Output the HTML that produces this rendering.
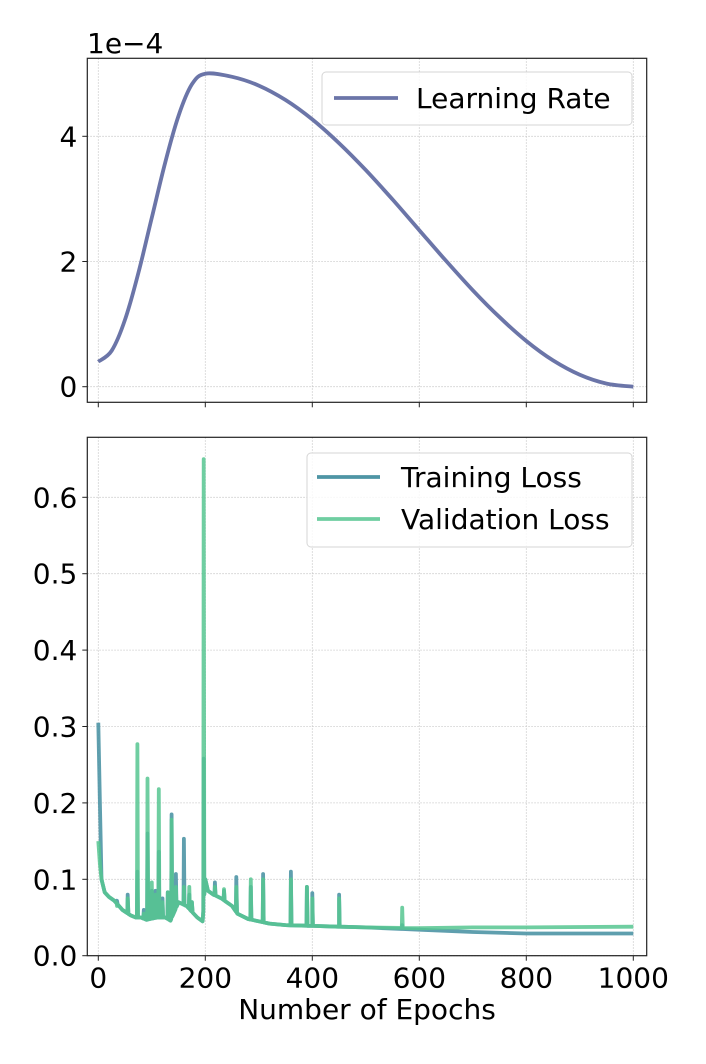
<!DOCTYPE html>
<html><head><meta charset="utf-8"><style>
body{margin:0;background:#fff;}
svg text{font-family:"DejaVu Sans","Liberation Sans",sans-serif;fill:#000;}
</style></head><body>
<svg id="chart" width="706" height="1059" viewBox="0 0 706 1059" xmlns="http://www.w3.org/2000/svg"></svg>
<script>
// Learning rate data (units of 1e-4)
const lrEpochs=[0,25,50,75,100,125,150,175,200,250,300,350,400,450,500,550,600,650,700,750,800,850,900,950,1000];
const lrValues=[0.4,0.575,1.07,1.82,2.7,3.58,4.33,4.83,5.0,4.95,4.81,4.58,4.27,3.89,3.46,2.99,2.5,2.01,1.54,1.11,0.73,0.42,0.19,0.05,0.0];
// Loss baseline data
const baseEpochs=[0,3,6,12,20,30,45,60,70,80,90,110,125,135,150,165,185,195,200,205,215,230,250,260,280,300,320,350,400,450,500,600,700,800,1000];
const trainBase=[0.305,0.2,0.1,0.083,0.077,0.072,0.06,0.053,0.05,0.05,0.047,0.05,0.05,0.046,0.07,0.065,0.05,0.045,0.1,0.085,0.08,0.075,0.065,0.055,0.048,0.045,0.042,0.04,0.039,0.038,0.037,0.034,0.031,0.029,0.029];
const valBase=[0.15,0.12,0.1,0.083,0.077,0.072,0.06,0.053,0.05,0.05,0.047,0.05,0.05,0.046,0.07,0.065,0.05,0.045,0.1,0.085,0.08,0.075,0.065,0.055,0.048,0.045,0.042,0.04,0.039,0.038,0.037,0.036,0.037,0.037,0.038];
// Spikes
const spikeEpochs=[35,55,73,85,92,100,107,113,120,130,137,145,160,170,175,197,218,235,258,285,308,360,390,400,450,568];
const trainSpike=[0.072,0.08,0.11,0.06,0.16,0.085,0.085,0.136,0.075,0.083,0.185,0.107,0.153,0.08,0.07,0.258,0.096,0.085,0.103,0.09,0.107,0.11,0.09,0.082,0.08,0.04];
const valSpike=[0.065,0.075,0.277,0.055,0.232,0.096,0.08,0.218,0.07,0.083,0.178,0.09,0.09,0.09,0.07,0.65,0.09,0.087,0.09,0.1,0.1,0.1,0.09,0.075,0.075,0.063];
const xTicks=[0,200,400,600,800,1000];
const lrTicks=[0,2,4];
const lossTicks=[0,0.1,0.2,0.3,0.4,0.5,0.6];

const NS="http://www.w3.org/2000/svg";
const svg=document.getElementById('chart');
function el(t,a,p){const e=document.createElementNS(NS,t);for(const k in a)e.setAttribute(k,a[k]);(p||svg).appendChild(e);return e;}
const FS=28;
const L=87.3,R=646.7;
const xS=e=>98.3+e*0.535;
const yTop=v=>386.7-v*62.6;
const yBot=v=>955.7-v*764;
const T1=58.3,B1=402.3,T2=437.3,B2=955.7;

function grid(top,bot,yTicks,yF,labels,gname){
  const g=el('g',{});
  
  
  xTicks.forEach(t=>{el('line',{x1:xS(t),x2:xS(t),y1:top,y2:bot,stroke:'#c8c8c8','stroke-width':0.8,'stroke-dasharray':'1.5,1.5'},g);
    el('line',{x1:xS(t),x2:xS(t),y1:bot,y2:bot+5,stroke:'#222','stroke-width':1},g);
    if(labels){const tx=el('text',{x:xS(t),y:bot+32,'text-anchor':'middle','font-size':FS},g);tx.textContent=t;
      }});
  yTicks.forEach(t=>{el('line',{x1:L,x2:R,y1:yF(t),y2:yF(t),stroke:'#c8c8c8','stroke-width':0.8,'stroke-dasharray':'1.5,1.5'},g);
    el('line',{x1:L-5,x2:L,y1:yF(t),y2:yF(t),stroke:'#222','stroke-width':1},g);
    const tx=el('text',{x:L-10,y:yF(t)+10,'text-anchor':'end','font-size':FS},g);tx.textContent=(t%1===0&&yTicks.length>3)?t.toFixed(1):String(t);
    });
}
grid(T1,B1,lrTicks,yTop,false,'lr-grid');
grid(T2,B2,lossTicks,yBot,true,'loss-grid');

// LR line (smooth Catmull-Rom through data points)
function smooth(xs,ys){
  const P=xs.map((x,i)=>[xS(x),yTop(ys[i])]);
  let d='M'+P[0][0].toFixed(1)+','+P[0][1].toFixed(1);
  for(let i=0;i<P.length-1;i++){
    const p0=P[Math.max(0,i-1)],p1=P[i],p2=P[i+1],p3=P[Math.min(P.length-1,i+2)];
    const c1=[p1[0]+(p2[0]-p0[0])/6,p1[1]+(p2[1]-p0[1])/6];
    const c2=[p2[0]-(p3[0]-p1[0])/6,p2[1]-(p3[1]-p1[1])/6];
    d+='C'+c1[0].toFixed(1)+','+c1[1].toFixed(1)+' '+c2[0].toFixed(1)+','+c2[1].toFixed(1)+' '+p2[0].toFixed(1)+','+p2[1].toFixed(1);
  }
  return d;
}
const lr=el('path',{d:smooth(lrEpochs,lrValues),fill:'none',stroke:'#6b75a8','stroke-width':3.8});



function baseAt(e,base){for(let i=1;i<baseEpochs.length;i++){if(e<=baseEpochs[i]){const e0=baseEpochs[i-1],e1=baseEpochs[i];const f=(e-e0)/(e1-e0);return base[i-1]+f*(base[i]-base[i-1]);}}return base[base.length-1];}
function lossPath(base,spk){
  const pts=[];baseEpochs.forEach((e,i)=>pts.push([e,base[i]]));
  spikeEpochs.forEach((e,i)=>{pts.push([e-0.8,baseAt(e-0.8,base)]);pts.push([e,spk[i]]);pts.push([e+1.2,baseAt(e+1.2,base)]);});
  pts.sort((a,b)=>a[0]-b[0]);
  return pts.map((p,i)=>(i?'L':'M')+xS(p[0]).toFixed(1)+','+yBot(p[1]).toFixed(1)).join('');
}
const tr=el('path',{d:lossPath(trainBase,trainSpike),fill:'none',stroke:'#4e95a5','stroke-width':3.8,'stroke-opacity':0.9,'stroke-linejoin':'round'});


const va=el('path',{d:lossPath(valBase,valSpike),fill:'none',stroke:'#56c690','stroke-width':3.8,'stroke-opacity':0.85,'stroke-linejoin':'round'});



// frames
const f1=el('rect',{x:L,y:T1,width:R-L,height:B1-T1,fill:'none',stroke:'#222','stroke-width':1.2});

const f2=el('rect',{x:L,y:T2,width:R-L,height:B2-T2,fill:'none',stroke:'#222','stroke-width':1.2});


const sci=el('text',{x:87,y:53,'font-size':FS});sci.textContent='1e\u22124';

const xl=el('text',{x:367,y:1019,'text-anchor':'middle','font-size':FS});xl.textContent='Number of Epochs';


// legends
const lg1=el('g',{});
el('rect',{x:322,y:72,width:310,height:53,rx:4,fill:'#fff','fill-opacity':0.8,stroke:'#d6d6d6'},lg1);
el('line',{x1:334,x2:398,y1:98,y2:98,stroke:'#6b75a8','stroke-width':3.8},lg1);
const t1=el('text',{x:416,y:108,'font-size':FS},lg1);t1.textContent='Learning Rate';

const lg2=el('g',{});
el('rect',{x:307,y:453,width:325,height:94,rx:4,fill:'#fff','fill-opacity':0.8,stroke:'#d6d6d6'},lg2);
el('line',{x1:317,x2:380,y1:477,y2:477,stroke:'#4e95a5','stroke-width':3.8},lg2);
el('line',{x1:317,x2:380,y1:519,y2:519,stroke:'#56c690','stroke-width':3.8,'stroke-opacity':0.85},lg2);
const t2=el('text',{x:401,y:487,'font-size':FS},lg2);t2.textContent='Training Loss';

const t3=el('text',{x:401,y:529,'font-size':FS},lg2);t3.textContent='Validation Loss';

</script>
</body></html>
